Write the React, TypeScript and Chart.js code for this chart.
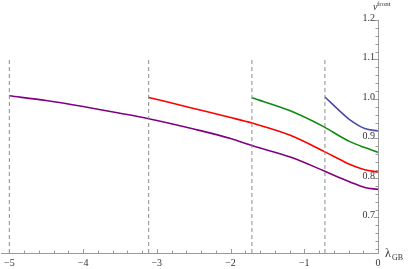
import React, { useEffect, useRef } from "react";
import { Chart, registerables } from "chart.js";

Chart.register(...registerables);

// ---- data ----
const xTicks = [-5, -4, -3, -2, -1, 0];
const yTicks = [0.7, 0.8, 0.9, 1.0, 1.1, 1.2];
const xMinorStep = 0.2;
const yMinorStep = 0.02;

const dashX = [-5, -3.11, -1.71, -0.72];
const dashTop = 1.1;

const purpleX = [-5.0, -4.5, -4.0, -3.5, -3.11, -2.5, -2.0, -1.71, -1.19, -0.72, -0.51, -0.38, -0.18, 0];
const purpleY = [1.008, 0.996, 0.981, 0.964, 0.95, 0.924, 0.9, 0.882, 0.853, 0.817, 0.8, 0.79, 0.776, 0.771];

const redX = [-3.11, -2.5, -2.0, -1.71, -1.19, -0.72, -0.51, -0.38, -0.18, 0];
const redY = [1.004, 0.976, 0.953, 0.939, 0.908, 0.866, 0.846, 0.834, 0.821, 0.815];

const greenX = [-1.71, -1.19, -0.72, -0.51, -0.38, -0.18, 0];
const greenY = [1.003, 0.97, 0.928, 0.905, 0.892, 0.877, 0.865];

const blueX = [-0.72, -0.51, -0.38, -0.18, 0];
const blueY = [1.005, 0.968, 0.947, 0.925, 0.919];

const X_MIN = -5.108;
const X_MAX = 0;
const Y_MIN = 0.61;
const Y_MAX = 1.2;

const AXIS_COLOR = "#9a9a9a";
const LABEL_COLOR = "#333";
const FONT = "Liberation Serif";

const fmtX = (v: number) => (v < 0 ? "\u2212" + Math.abs(v) : String(v));

const pts = (xs: number[], ys: number[]) => xs.map((x, i) => ({ x, y: ys[i] }));

const axisDecor = {
  id: "axisDecor",
  afterDraw(chart: any) {
    const { ctx, chartArea, scales } = chart;
    const xs = scales.x;
    const ys = scales.y;
    ctx.save();
    ctx.strokeStyle = AXIS_COLOR;
    ctx.lineWidth = 1;
    const bottom = chartArea.bottom;
    const right = chartArea.right;
    // x ticks (inward)
    for (let v = -5; v <= 0.0001; v += xMinorStep) {
      const val = Math.round(v * 10) / 10;
      const px = Math.round(xs.getPixelForValue(val)) + 0.5;
      const major = Math.abs(val - Math.round(val)) < 1e-6;
      const len = major ? 4 : 2.5;
      ctx.beginPath();
      ctx.moveTo(px, bottom);
      ctx.lineTo(px, bottom - len);
      ctx.stroke();
    }
    // y ticks (inward)
    for (let v = 0.62; v <= 1.2001; v += yMinorStep) {
      const val = Math.round(v * 100) / 100;
      const py = Math.round(ys.getPixelForValue(val)) + 0.5;
      const major = Math.abs(val * 10 - Math.round(val * 10)) < 1e-6;
      const len = major ? 4 : 2.5;
      ctx.beginPath();
      ctx.moveTo(right, py);
      ctx.lineTo(right - len, py);
      ctx.stroke();
    }
    // y tick labels (left of the axis, inside the plot)
    ctx.fillStyle = LABEL_COLOR;
    ctx.font = `10px ${FONT}`;
    ctx.textAlign = "right";
    ctx.textBaseline = "middle";
    for (const v of yTicks) {
      ctx.fillText(v.toFixed(1), right - 3, ys.getPixelForValue(v) - 2);
    }
    // axis labels
    ctx.textBaseline = "alphabetic";
    ctx.textAlign = "left";
    ctx.font = `italic 10px ${FONT}`;
    ctx.fillText("v", right - 5, 10);
    ctx.font = `7px ${FONT}`;
    ctx.fillText("front", right - 1, 6);
    ctx.font = `12px ${FONT}`;
    ctx.fillText("\u03bb", right + 7, bottom + 4);
    ctx.font = `8px ${FONT}`;
    ctx.fillText("GB", right + 14, bottom + 7);
    ctx.restore();
  },
};

export default function App() {
  const ref = useRef<HTMLCanvasElement | null>(null);
  useEffect(() => {
    if (!ref.current) return;
    const curve = (xs: number[], ys: number[], color: string) => ({
      data: pts(xs, ys),
      borderColor: color,
      backgroundColor: color,
      borderWidth: 1.6,
      pointRadius: 0,
      showLine: true,
      cubicInterpolationMode: "monotone" as const,
      fill: false,
    });
    const dashSets = dashX.map((x) => ({
      data: [
        { x, y: Y_MIN },
        { x, y: dashTop },
      ],
      borderColor: "#8c8c8c",
      borderWidth: 1,
      borderDash: [4, 3],
      pointRadius: 0,
      showLine: true,
      fill: false,
    }));
    const chart = new Chart(ref.current, {
      type: "scatter",
      data: {
        datasets: [
          ...dashSets,
          curve(purpleX, purpleY, "#800080"),
          curve(redX, redY, "#ff0000"),
          curve(greenX, greenY, "#108a10"),
          curve(blueX, blueY, "#4a4aa6"),
        ] as any,
      },
      options: {
        animation: false,
        responsive: false,
        devicePixelRatio: 1,
        layout: { padding: { top: 20, right: 31, left: 0, bottom: 0 } },
        plugins: { legend: { display: false }, tooltip: { enabled: false } },
        scales: {
          x: {
            type: "linear",
            position: "bottom",
            min: X_MIN,
            max: X_MAX,
            grid: { display: false, drawTicks: false },
            border: { display: true, color: AXIS_COLOR, width: 1 },
            afterBuildTicks: (s: any) => {
              s.ticks = xTicks.map((v) => ({ value: v }));
            },
            afterFit: (s: any) => {
              s.height = 16;
            },
            ticks: {
              padding: 4,
              maxRotation: 0,
              autoSkip: false,
              color: LABEL_COLOR,
              font: { family: FONT, size: 10 },
              callback: (v: any) => fmtX(Number(v)),
            },
          },
          y: {
            type: "linear",
            position: "right",
            min: Y_MIN,
            max: Y_MAX,
            grid: { display: false, drawTicks: false },
            border: { display: true, color: AXIS_COLOR, width: 1 },
            afterBuildTicks: (s: any) => {
              s.ticks = yTicks.map((v) => ({ value: v }));
            },
            afterFit: (s: any) => {
              s.width = 0;
            },
            ticks: { display: false },
          },
        },
      },
      plugins: [axisDecor],
    });
    return () => chart.destroy();
  }, []);
  return (
    <div style={{ position: "absolute", left: 0, top: 0, width: 409, height: 269, background: "#fff" }}>
      <canvas ref={ref} width={409} height={269} />
    </div>
  );
}
